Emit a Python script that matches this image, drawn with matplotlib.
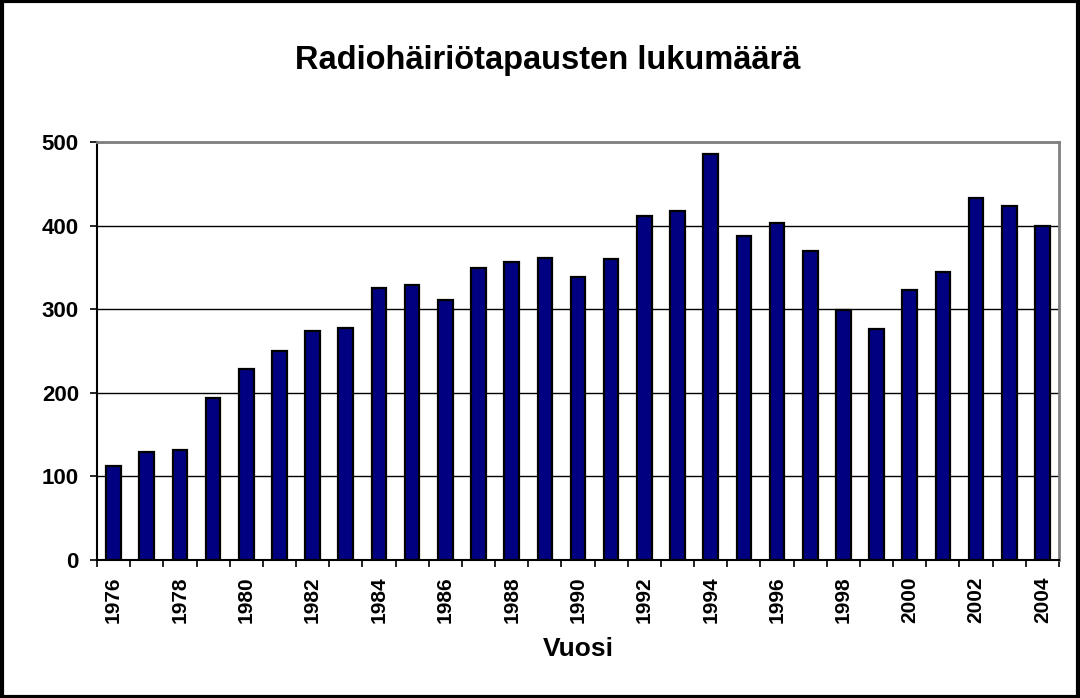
import numpy as np
import matplotlib.pyplot as plt
from matplotlib.patches import Rectangle

plt.rcParams['font.family'] = ['Liberation Sans', 'DejaVu Sans']

years = list(range(1976, 2005))
counts = [113, 129, 131, 194, 229, 250, 274, 278, 325, 329,
          311, 349, 357, 361, 339, 360, 412, 417, 486, 387,
          403, 370, 299, 276, 323, 345, 433, 423, 399]
yticks = [0, 100, 200, 300, 400, 500]

fig = plt.figure(figsize=(10.8, 6.98), dpi=100)
ax = fig.add_axes([97 / 1080, 1 - 560 / 698, (1059 - 97) / 1080, (560 - 142) / 698])

x = np.arange(len(years))
ax.bar(x, counts, width=0.44, color='#000080', edgecolor='black', linewidth=1.6, zorder=3)

ax.set_xlim(-0.5, len(years) - 0.5)
ax.set_ylim(0, 500)
ax.set_yticks(yticks)
ax.set_yticklabels([str(v) for v in yticks], fontsize=16, fontweight='bold')
ax.yaxis.grid(True, color='black', linewidth=1.0, zorder=0)

# ticks between categories, labels on every other year
ax.set_xticks(np.arange(len(years) + 1) - 0.5)
ax.set_xticklabels([])
ax.set_xticks(x[::2], minor=True)
ax.set_xticklabels([str(y) for y in years[::2]], minor=True, rotation=90,
                   fontsize=15, fontweight='bold')
ax.tick_params(axis='x', which='minor', length=0, pad=12)
ax.tick_params(axis='x', which='major', length=5, width=1.2, direction='out')
ax.tick_params(axis='y', length=5, width=1.2, direction='out', pad=8)

for side in ['top', 'right']:
    ax.spines[side].set_color('#808080')
    ax.spines[side].set_linewidth(2)
for side in ['left', 'bottom']:
    ax.spines[side].set_color('black')
    ax.spines[side].set_linewidth(1.5)

ax.set_xlabel('Vuosi', fontsize=19, fontweight='bold', labelpad=10)
fig.text(548 / 1080, 1 - 61 / 698, 'Radiohäiriötapausten lukumäärä',
         ha='center', va='center', fontsize=23.5, fontweight='bold')

# outer chart border
fig.patches.append(Rectangle((0.002, 0.002), 0.996, 0.996, transform=fig.transFigure,
                             fill=False, edgecolor='black', linewidth=3))

fig.savefig('out.png', dpi=100)
